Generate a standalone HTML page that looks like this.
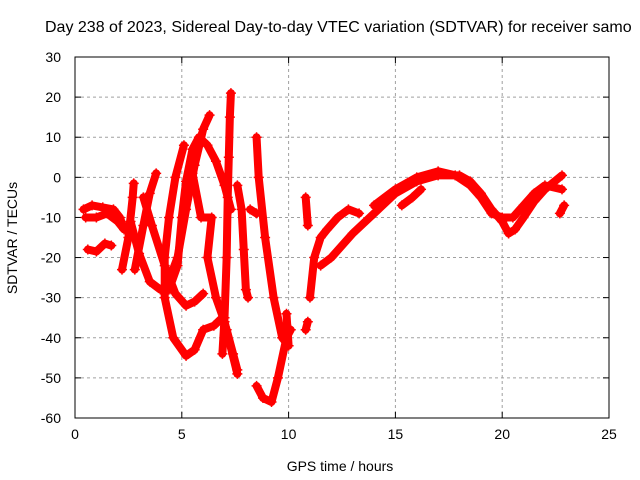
<!DOCTYPE html>
<html><head><meta charset="utf-8"><style>
body{margin:0;background:#fff;}
svg{display:block;font-family:"Liberation Sans",sans-serif;}
</style></head><body>
<svg id="chart" width="640" height="480">
<text x="45" y="32" font-size="16">Day 238 of 2023, Sidereal Day-to-day VTEC variation (SDTVAR) for receiver samo</text>
<g id="grid"></g><g id="axes"></g><g id="marks"></g>
<text x="340" y="471" font-size="14" text-anchor="middle">GPS time / hours</text>
<text x="17" y="238" font-size="14" text-anchor="middle" transform="rotate(-90 17 238)">SDTVAR / TECUs</text>
</svg>
<script>
const xTicks=[0,5,10,15,20,25];
const yTicks=[30,20,10,0,-10,-20,-30,-40,-50,-60];
const trA=[[0.4,-8],[0.8,-7],[1.3,-7.5],[1.8,-8],[2.1,-10],[2.3,-13],[2.0,-11],[1.5,-9],[1.0,-10],[0.5,-10]];
const trB=[[0.6,-18],[1.0,-18.5],[1.4,-16.5],[1.7,-17]];
const trC=[[2.2,-23],[2.5,-15],[2.7,-5],[2.75,-1.5]];
const trD=[[2.6,-11],[3.0,-19],[3.5,-26],[4.0,-28],[4.4,-28],[4.8,-22],[5.0,-10],[5.2,-1],[5.5,7],[5.8,10],[6.2,8],[6.6,4],[7.0,-2],[7.3,-8]];
const trE=[[4.3,-27],[4.8,-20],[5.2,-8],[5.6,3],[6.0,12],[6.3,15.5]];
const trF=[[5.1,8],[4.7,0],[4.4,-10],[4.2,-20],[4.2,-30],[4.6,-40],[5.2,-44.5],[5.6,-43],[6.0,-38],[6.5,-37],[6.9,-35],[7.1,-38],[7.4,-44],[7.6,-48]];
const trG=[[2.8,-23],[3.2,-12],[3.5,-4],[3.8,1]];
const trH=[[3.2,-5],[3.6,-12],[4.2,-22],[4.7,-29],[5.2,-32],[5.6,-31],[6.0,-29]];
const trI=[[5.5,1],[5.9,-10],[6.4,-10],[6.2,-20],[6.6,-30],[7.0,-36],[7.6,-49]];
const trJ=[[6.9,-44],[7.0,-35],[7.1,-20],[7.15,-5],[7.2,5],[7.25,15],[7.3,21]];
const trK=[[7.6,-2],[7.8,-8],[7.9,-18],[8.0,-28],[8.1,-30]];
const trL=[[8.5,10],[8.6,0],[8.9,-15],[9.3,-30],[9.7,-40],[10.0,-42],[9.9,-34]];
const trM=[[8.5,-52],[8.8,-55],[9.2,-56],[9.5,-50],[9.9,-40],[10.1,-38]];
const trN=[[8.2,-8],[8.5,-9]];
const trO=[[10.8,-38],[10.9,-36]];
const trP=[[11.0,-30],[11.2,-20],[11.5,-15],[11.8,-13],[12.3,-10],[12.8,-8],[13.3,-9]];
const trQ=[[11.5,-22],[12,-20],[13,-14],[14,-9],[15,-4],[16,-1],[17,0.5],[18,0.5],[18.5,-1],[19,-4],[19.5,-8],[20,-11],[20.3,-14],[20.6,-13],[21,-10],[21.5,-6],[22,-3],[22.8,0.5]];
const trR=[[14,-7],[15,-3],[16,0],[17,1.5],[17.8,0.5],[18.5,-2],[19,-5],[19.5,-9],[20,-10],[20.5,-10],[21,-7],[21.5,-4],[22,-2],[22.8,-3]];
const trS=[[15.3,-7],[15.8,-5],[16.2,-3]];
const trT=[[22.7,-9],[22.9,-7]];
const trU=[[10.8,-5],[10.9,-12]];
const traces=[trA,trB,trC,trD,trE,trF,trG,trH,trI,trJ,trK,trL,trM,trN,trO,trP,trQ,trR,trS,trT,trU];
const NS="http://www.w3.org/2000/svg";
const X0=75,X1=609,Y0=57,Y1=418;
const xs=t=>X0+(t-0)/(25-0)*(X1-X0);
const ys=v=>Y1-(v-(-60))/(30-(-60))*(Y1-Y0);
const grid=document.getElementById('grid'),axes=document.getElementById('axes'),marks=document.getElementById('marks');
function mk(tag,attrs,parent){const e=document.createElementNS(NS,tag);for(const k in attrs)e.setAttribute(k,attrs[k]);parent.appendChild(e);return e;}
xTicks.forEach(t=>{
 const x=xs(t);
 if(t>0&&t<25){const g=mk('line',{x1:x,x2:x,y1:Y0,y2:Y1,stroke:'#a0a0a0','stroke-dasharray':'3,3'},grid);
 
 }
 const l=mk('text',{x:x,y:Y1+21,'font-size':14,'text-anchor':'middle'},axes);l.textContent=t;
 
 
 mk('line',{x1:x,x2:x,y1:Y1,y2:Y1-6,stroke:'#000'},axes);
 mk('line',{x1:x,x2:x,y1:Y0,y2:Y0+6,stroke:'#000'},axes);
});
yTicks.forEach(v=>{
 const y=ys(v);
 if(v>-60&&v<30){const g=mk('line',{x1:X0,x2:X1,y1:y,y2:y,stroke:'#a0a0a0','stroke-dasharray':'3,3'},grid);
 
 }
 const l=mk('text',{x:61,y:y+5,'font-size':14,'text-anchor':'end'},axes);l.textContent=v;
 
 
 mk('line',{x1:X0,x2:X0+6,y1:y,y2:y,stroke:'#000'},axes);
 mk('line',{x1:X1,x2:X1-6,y1:y,y2:y,stroke:'#000'},axes);
});
const fr=mk('rect',{x:X0,y:Y0,width:X1-X0,height:Y1-Y0,fill:'none',stroke:'#000'},axes);


traces.forEach(tr=>{
 const pts=tr.map(p=>xs(p[0])+','+ys(p[1])).join(' ');
 const pl=mk('polyline',{points:pts,fill:'none',stroke:'#f00','stroke-width':8,'stroke-linejoin':'round','stroke-linecap':'round'},marks);
 
 
 tr.forEach(p=>{
  const x=xs(p[0]),y=ys(p[1]);
  const m=mk('path',{d:`M${x-5},${y}H${x+5}M${x},${y-5}V${y+5}`,stroke:'#f00','stroke-width':1.5},marks);
  
  
 });
});
</script>
</body></html>
